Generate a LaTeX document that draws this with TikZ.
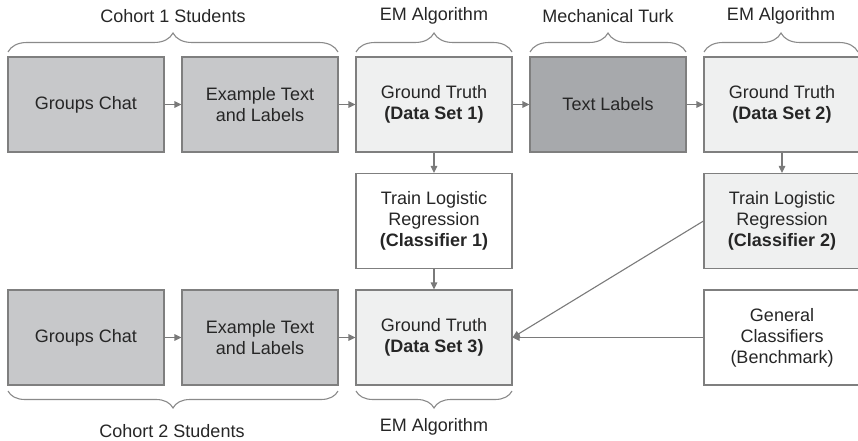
\documentclass[tikz,border=0pt]{standalone}
\usepackage{fontspec}
\setmainfont{Liberation Sans}
\usetikzlibrary{arrows.meta,decorations.pathreplacing}
\definecolor{boxline}{HTML}{7F7F7F}
\definecolor{midgray}{HTML}{C7C8CA}
\definecolor{darkgray}{HTML}{A7A9AC}
\definecolor{lightgray}{HTML}{EFF0F0}
\definecolor{arrowgray}{HTML}{7A7A7A}
\definecolor{bracegray}{HTML}{8A8A8A}
\tikzset{
  box/.style={draw=boxline, line width=1.1pt, minimum width=156pt, minimum height=95pt,
    inner sep=0pt, align=center, font=\fontsize{18}{21}\selectfont, text=black!85},
  conn/.style={draw=arrowgray, line width=1.1pt, -{Triangle[length=7pt,width=6.5pt]}},
  bracedeco/.style={draw=bracegray, line width=1.1pt, decorate, decoration={brace, amplitude=#1, aspect=0.5}},
  lbl/.style={font=\fontsize{18}{21}\selectfont, text=black!85},
}
\begin{document}
\begin{tikzpicture}[x=1pt,y=-1pt]
\useasboundingbox (0,0) rectangle (858,441);
% row 1
\node[box, fill=midgray]   (gc1) at (86,104.5)  {Groups Chat};
\node[box, fill=midgray]   (ex1) at (260,104.5) {Example Text\\and Labels};
\node[box, fill=lightgray] (gt1) at (434,104.5) {Ground Truth\\\textbf{(Data Set 1)}};
\node[box, fill=darkgray]  (tl)  at (608,104.5) {Text Labels};
\node[box, fill=lightgray] (gt2) at (782,104.5) {Ground Truth\\\textbf{(Data Set 2)}};
% row 2
\node[box, fill=white]     (c1)  at (434,221)   {Train Logistic\\Regression\\\textbf{(Classifier 1)}};
\node[box, fill=lightgray] (c2)  at (782,221)   {Train Logistic\\Regression\\\textbf{(Classifier 2)}};
% row 3
\node[box, fill=midgray]   (gc2) at (86,337.5)  {Groups Chat};
\node[box, fill=midgray]   (ex2) at (260,337.5) {Example Text\\and Labels};
\node[box, fill=lightgray] (gt3) at (434,337.5) {Ground Truth\\\textbf{(Data Set 3)}};
\node[box, fill=white]     (gen) at (782,337.5) {General\\Classifiers\\(Benchmark)};
% connectors
\draw[conn] (gc1) -- (ex1);
\draw[conn] (ex1) -- (gt1);
\draw[conn] (gt1) -- (tl);
\draw[conn] (tl) -- (gt2);
\draw[conn] (gt1) -- (c1);
\draw[conn] (c1) -- (gt3);
\draw[conn] (gt2) -- (c2);
\draw[conn] (gc2) -- (ex2);
\draw[conn] (ex2) -- (gt3);
\draw[conn] (c2.west) -- (gt3.east);
\draw[conn] (gen) -- (gt3);
% top braces
\coordinate (b1a) at (8,52);   \coordinate (b1b) at (338,52);
\coordinate (b2a) at (356,52); \coordinate (b2b) at (512,52);
\coordinate (b3a) at (530,52); \coordinate (b3b) at (686,52);
\coordinate (b4a) at (704,52); \coordinate (b4b) at (858,52);
\draw[bracedeco=19pt] (b1a) -- (b1b);
\draw[bracedeco=19pt] (b2a) -- (b2b);
\draw[bracedeco=19pt] (b3a) -- (b3b);
\draw[bracedeco=19pt] (b4a) -- (b4b);
\node[lbl] (t1) at (173,16) {Cohort 1 Students};
\node[lbl] (t2) at (434,16) {EM Algorithm};
\node[lbl] (t3) at (608,16) {Mechanical Turk};
\node[lbl] (t4) at (781,16) {EM Algorithm};
% bottom braces
\coordinate (d1a) at (338,391); \coordinate (d1b) at (8,391);
\coordinate (d2a) at (512,391); \coordinate (d2b) at (356,391);
\draw[bracedeco=17pt] (d1a) -- (d1b);
\draw[bracedeco=17pt] (d2a) -- (d2b);
\node[lbl] (u1) at (172,431) {Cohort 2 Students};
\node[lbl] (u2) at (434,427) {EM Algorithm};
\end{tikzpicture}
\end{document}
